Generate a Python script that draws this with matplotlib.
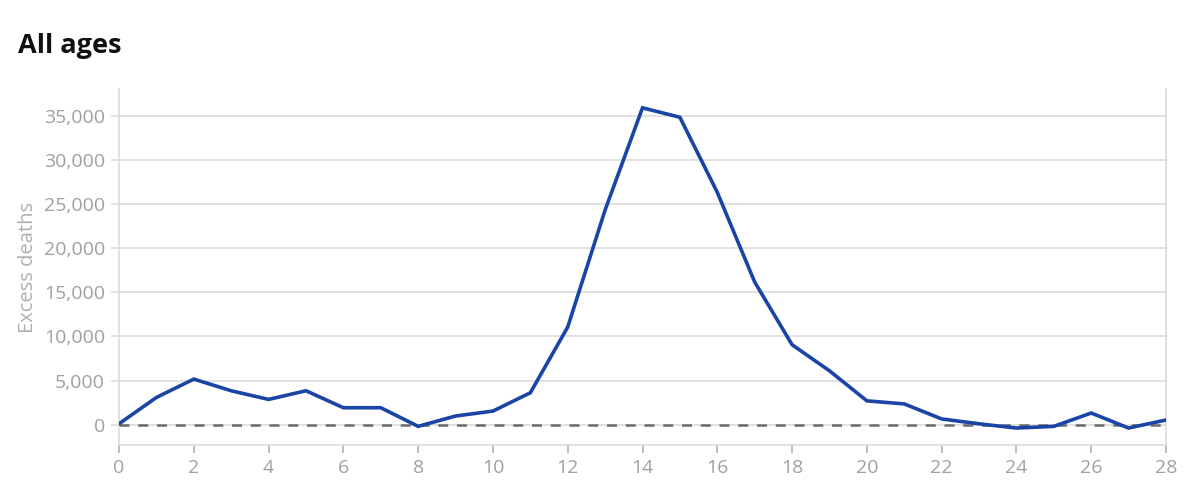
import matplotlib.pyplot as plt
from matplotlib.ticker import FuncFormatter

# weeks and excess deaths
weeks = list(range(29))
excess_deaths = [
    100, 3080, 5160, 3840, 2860, 3840, 1920, 1920, -190, 980,
    1540, 3610, 11050, 24300, 35870, 34800, 26300, 16150, 9050, 6100,
    2700, 2350, 650, 100, -380, -190, 1320, -380, 530,
]
y_ticks = [0, 5000, 10000, 15000, 20000, 25000, 30000, 35000]
x_ticks = list(range(0, 29, 2))

plt.rcParams["font.family"] = ["Open Sans", "DejaVu Sans"]

fig = plt.figure(figsize=(12, 5.03), dpi=100)
ax = fig.add_axes([119 / 1200, 1 - 445 / 503, (1166 - 119) / 1200, (445 - 89) / 503])

light = "#dcdcdc"
txt = "#a0a0a0"

ax.plot(weeks, excess_deaths, color="#1a45a6", lw=2.6, zorder=3, solid_joinstyle="miter")
ax.axhline(0, color="#6b6b6b", lw=1.8, ls=(0, (4, 3.5)), zorder=2)

ax.set_xlim(0, 28)
ax.set_ylim(-2300, 38000)
ax.set_yticks(y_ticks)
ax.set_xticks(x_ticks)
ax.yaxis.set_major_formatter(FuncFormatter(lambda v, p: f"{int(v):,}"))
ax.grid(axis="y", color=light, lw=1.2, zorder=0)

for s in ("left", "right", "bottom"):
    ax.spines[s].set_color(light)
    ax.spines[s].set_linewidth(1.2)
ax.spines["top"].set_visible(False)

ax.tick_params(axis="y", colors=light, labelcolor=txt, labelsize=14, length=6, width=1.2, pad=4)
ax.tick_params(axis="x", colors="#b0b0b0", labelcolor=txt, labelsize=14, length=6, width=1.2, pad=4)

ax.set_ylabel("Excess deaths", color="#b0b0b0", fontsize=14.5, labelpad=4)
fig.text(18 / 1200, 1 - 46 / 503, "All ages", fontsize=19.5, fontweight="bold",
         color="#111111", va="center", ha="left")

fig.savefig("out.png", dpi=100)
